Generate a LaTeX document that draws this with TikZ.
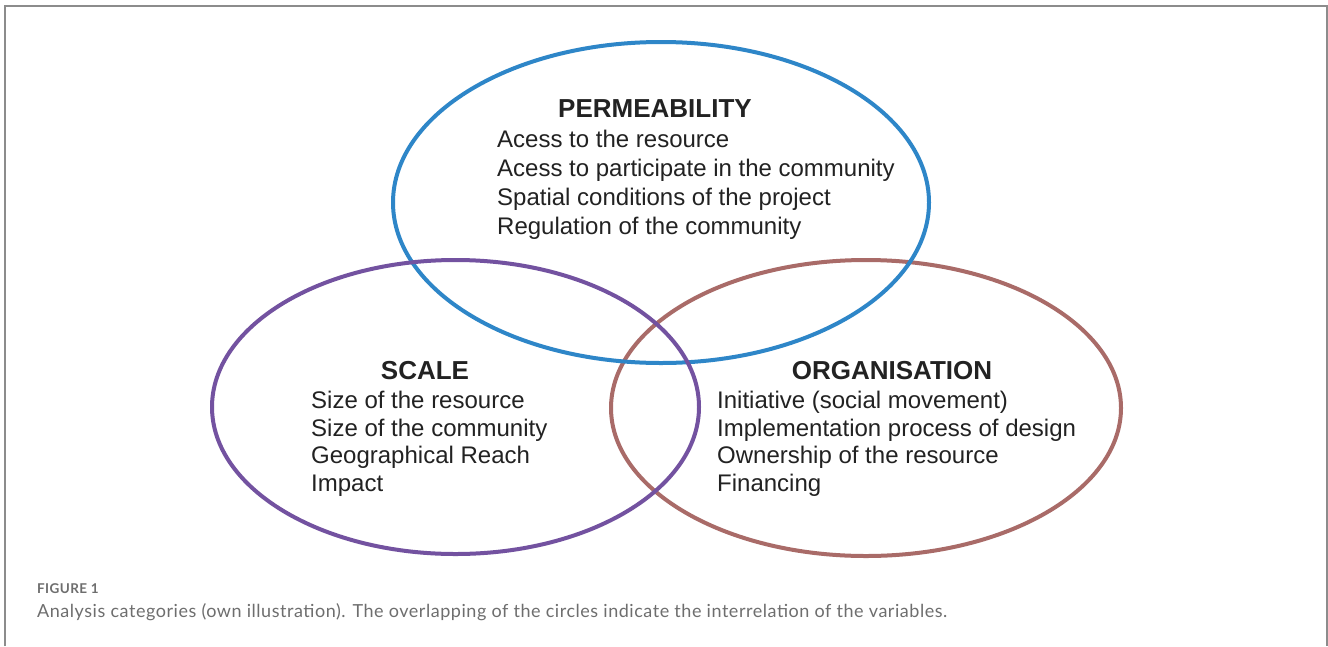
\documentclass[tikz,border=0pt]{standalone}
\usepackage{fontspec}
\setmainfont{Liberation Sans}
\newfontfamily\captionfont[LetterSpace=3]{Lato}
\definecolor{permblue}{HTML}{2E86C8}
\definecolor{scalepurple}{HTML}{7352A0}
\definecolor{orgbrown}{HTML}{A96B68}
\definecolor{framegray}{HTML}{8C8C8C}
\definecolor{captiongray}{HTML}{6E6E6E}
\definecolor{textdark}{HTML}{222222}
\tikzset{
  ring/.style={line width=4pt},
  heading/.style={font=\fontsize{26}{30}\selectfont\bfseries, text=textdark, inner sep=0pt, anchor=base},
  itemlist/.style={font=\fontsize{24}{29}\selectfont, text=textdark, inner sep=0pt, anchor=north west, align=left},
}
\begin{document}
\begin{tikzpicture}[x=1pt,y=-1pt]
  \useasboundingbox (0,0) rectangle (1328,646);
  \fill[white] (0,0) rectangle (1328,646);
  % panel frame, open at the bottom
  \draw[framegray, line width=2pt] (5,646) -- (5,6) -- (1327,6) -- (1327,646);

  % the three categories
  \draw[ring, orgbrown] (866,408) ellipse [x radius=255, y radius=148];
  \draw[ring, permblue] (661,202.5) ellipse [x radius=268, y radius=160.5];
  \draw[ring, scalepurple] (455.5,407) ellipse [x radius=243.5, y radius=147];

  % permeability
  \node[heading] (permtitle) at (655,117) {PERMEABILITY};
  \node[itemlist] (permitems) at (497,130) {Acess to the resource\\Acess to participate in the community\\Spatial conditions of the project\\Regulation of the community};

  % scale
  \node[heading] (scaletitle) at (425,379) {SCALE};
  \node[itemlist, font=\fontsize{24}{27.5}\selectfont] (scaleitems) at (311,391) {Size of the resource\\Size of the community\\Geographical Reach\\Impact};

  % organisation
  \node[heading] (orgtitle) at (892,379) {ORGANISATION};
  \node[itemlist, font=\fontsize{24}{27.5}\selectfont] (orgitems) at (717,391) {Initiative (social movement)\\Implementation process of design\\Ownership of the resource\\Financing};

  % caption
  \node[font=\captionfont\fontsize{13.5}{15}\selectfont\bfseries, text=captiongray, anchor=base west, inner sep=0pt] (figlabel) at (37,593) {FIGURE 1};
  \node[font=\captionfont\fontsize{18}{20}\selectfont, text=captiongray, anchor=base west, inner sep=0pt] (figcaption) at (37,617) {Analysis categories (own illustration). The overlapping of the circles indicate the interrelation of the variables.};
\end{tikzpicture}
\end{document}
